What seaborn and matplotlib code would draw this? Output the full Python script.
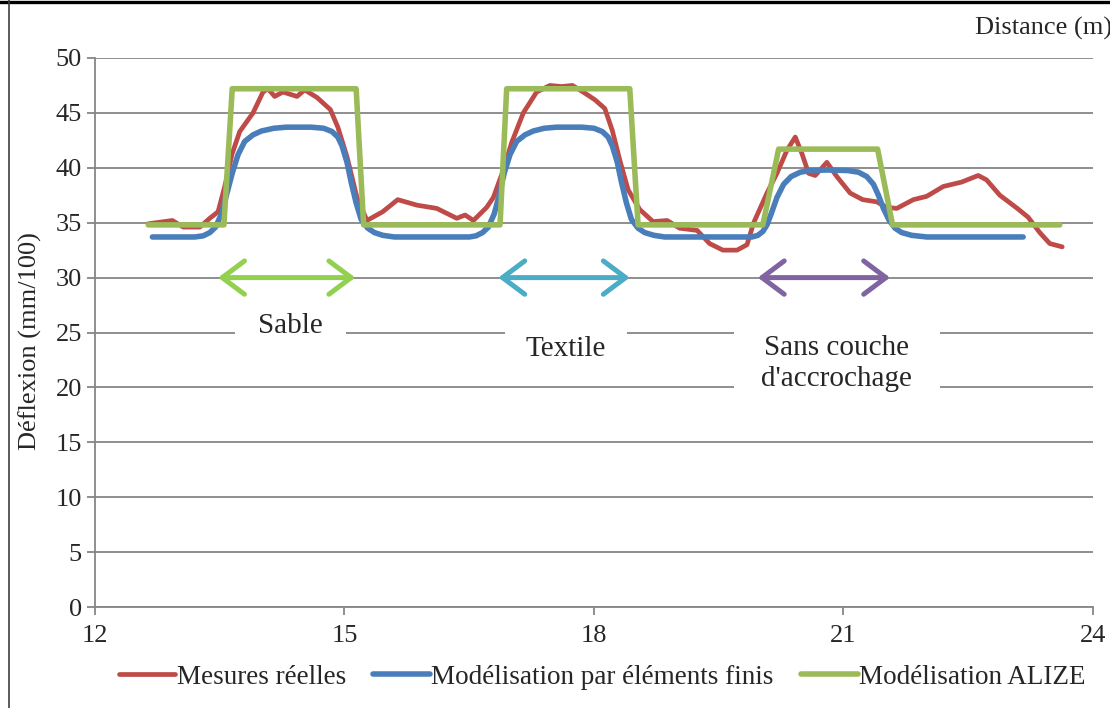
import matplotlib
matplotlib.use("Agg")
import matplotlib.pyplot as plt
from matplotlib.lines import Line2D
from matplotlib.patches import FancyArrowPatch
import pandas as pd
import seaborn as sns

# --- data ---
mesures_x = [12.64, 12.93, 13.06, 13.26, 13.38, 13.48, 13.56, 13.65, 13.74, 13.90,
             14.02, 14.08, 14.16, 14.26, 14.43, 14.52, 14.67, 14.83, 14.92, 15.03,
             15.15, 15.27, 15.46, 15.64, 15.87, 16.11, 16.35, 16.45, 16.55, 16.71,
             16.79, 16.91, 17.01, 17.15, 17.31, 17.47, 17.61, 17.74, 17.87, 18.01,
             18.13, 18.22, 18.31, 18.41, 18.55, 18.71, 18.88, 19.03, 19.24, 19.39,
             19.55, 19.72, 19.84, 19.92, 20.08, 20.20, 20.32, 20.42, 20.50, 20.58,
             20.66, 20.80, 20.92, 21.08, 21.23, 21.40, 21.52, 21.64, 21.84, 22.00,
             22.20, 22.42, 22.62, 22.72, 22.88, 23.09, 23.22, 23.36, 23.48, 23.63]
mesures_y = [34.9, 35.2, 34.6, 34.6, 35.4, 36.0, 38.3, 41.3, 43.3, 45.0,
             46.9, 47.2, 46.5, 46.9, 46.5, 47.1, 46.4, 45.3, 43.7, 41.0,
             37.3, 35.2, 36.0, 37.1, 36.6, 36.3, 35.4, 35.7, 35.2, 36.4,
             37.3, 39.8, 42.3, 45.0, 46.9, 47.5, 47.4, 47.5, 46.9, 46.2,
             45.4, 43.4, 40.7, 38.0, 36.2, 35.1, 35.2, 34.5, 34.3, 33.1,
             32.5, 32.5, 33.0, 35.0, 37.7, 39.5, 41.6, 42.8, 41.3, 39.5,
             39.3, 40.5, 39.2, 37.7, 37.1, 36.9, 36.4, 36.3, 37.1, 37.4,
             38.3, 38.7, 39.3, 38.9, 37.5, 36.3, 35.5, 34.1, 33.1, 32.8]

ef_x = [12.69, 13.20, 13.30, 13.38, 13.45, 13.52, 13.58, 13.65, 13.72, 13.80,
        13.90, 14.00, 14.15, 14.30, 14.60, 14.75, 14.85, 14.92, 14.97, 15.03,
        15.08, 15.14, 15.20, 15.28, 15.36, 15.46, 15.60, 16.50, 16.58, 16.66,
        16.73, 16.80, 16.86, 16.92, 16.99, 17.07, 17.17, 17.27, 17.40, 17.55,
        17.85, 18.00, 18.10, 18.17, 18.22, 18.28, 18.33, 18.39, 18.45, 18.53,
        18.61, 18.72, 18.85, 19.90, 19.97, 20.03, 20.08, 20.13, 20.20, 20.28,
        20.37, 20.48, 20.60, 20.80, 21.05, 21.18, 21.28, 21.36, 21.42, 21.48,
        21.55, 21.62, 21.70, 21.82, 22.00, 23.16]
ef_y = [33.7, 33.7, 33.8, 34.1, 34.6, 35.8, 37.5, 39.5, 41.2, 42.4,
        43.0, 43.35, 43.6, 43.7, 43.7, 43.6, 43.3, 42.8, 42.0, 40.5,
        38.7, 36.8, 35.3, 34.5, 34.1, 33.85, 33.7, 33.7, 33.8, 34.1,
        34.6, 35.8, 37.5, 39.5, 41.2, 42.4, 43.0, 43.35, 43.6, 43.7,
        43.7, 43.6, 43.3, 42.8, 42.0, 40.5, 38.7, 36.8, 35.3, 34.5,
        34.1, 33.85, 33.7, 33.7, 33.85, 34.2, 34.8, 35.8, 37.3, 38.5,
        39.2, 39.6, 39.75, 39.8, 39.75, 39.6, 39.2, 38.5, 37.5, 36.3,
        35.2, 34.5, 34.1, 33.85, 33.7, 33.7]

alize_x = [12.64, 13.55, 13.65, 15.14, 15.23, 16.87, 16.95, 18.43, 18.53,
           20.03, 20.22, 21.41, 21.59, 23.60]
alize_y = [34.8, 34.8, 47.2, 47.2, 34.8, 34.8, 47.2, 47.2, 34.8,
           34.8, 41.7, 41.7, 34.8, 34.8]

series_labels = ["Mesures réelles", "Modélisation par éléments finis", "Modélisation ALIZE"]
series_colors = ["#BE4B48", "#4A7EBB", "#9BBB59"]

zone_labels = ["Sable", "Textile", "Sans couche\nd'accrochage"]
zone_start = [13.48, 16.85, 19.97]
zone_end = [15.13, 18.43, 21.56]
zone_colors = ["#92D050", "#4BACC6", "#8064A2"]

sns.set_style("white")
plt.rcParams["font.family"] = ["Liberation Serif", "DejaVu Serif"]

fig = plt.figure(figsize=(11.1, 7.08), dpi=100)
ax = fig.add_axes([95 / 1110, 1 - 607 / 708, (1093 - 95) / 1110, (607 - 58) / 708])

data = [(mesures_x, mesures_y, 3.4), (ef_x, ef_y, 4.0), (alize_x, alize_y, 4.0)]
for (xs, ys, lw), lab, col in zip(data, series_labels, series_colors):
    df = pd.DataFrame({"x": xs, "y": ys})
    sns.lineplot(data=df, x="x", y="y", ax=ax, color=col, linewidth=lw,
                 estimator=None, sort=False, label=lab,
                 solid_joinstyle="round", solid_capstyle="round")

ax.set_xlim(12, 24)
ax.set_ylim(0, 50)
ax.set_xticks([12, 15, 18, 21, 24])
ax.set_yticks(range(0, 51, 5))
ax.set_xlabel("")
ax.set_ylabel("")
ax.tick_params(axis="both", labelsize=19, length=6, width=1.3, color="#868686",
               direction="out", bottom=True, left=True)
ax.tick_params(axis="x", pad=7)
ax.yaxis.grid(True, color="#868686", linewidth=1.3)
ax.xaxis.grid(False)
ax.set_axisbelow(True)
for s in ["top", "right"]:
    ax.spines[s].set_visible(False)
for s in ["left", "bottom"]:
    ax.spines[s].set_color("#868686")
    ax.spines[s].set_linewidth(1.3)

# zone arrows
for x0, x1, col in zip(zone_start, zone_end, zone_colors):
    arr = FancyArrowPatch((x0, 30), (x1, 30),
                          arrowstyle="<->,head_length=16,head_width=12",
                          mutation_scale=1, color=col, linewidth=3.6,
                          shrinkA=0, shrinkB=0, capstyle="round",
                          joinstyle="round", zorder=4)
    ax.add_patch(arr)

# zone labels with white boxes
label_pos = [(14.35, 25.6, 0.8), (17.66, 23.5, 0.72), (20.92, 22.2, 0.95)]
for (tx, ty, pad), txt in zip(label_pos, zone_labels):
    ax.text(tx, ty, txt, ha="center", va="center", fontsize=21,
            linespacing=1.25,
            bbox=dict(boxstyle=f"square,pad={pad}", facecolor="white",
                      edgecolor="none"), zorder=3)

ax.legend(loc="center", bbox_to_anchor=(602 / 1110, 1 - 677 / 708),
          bbox_transform=fig.transFigure, ncol=3, frameon=False, fontsize=19.5,
          handlelength=2.1, handletextpad=0.05, columnspacing=1.0)

fig.text(30 / 1110, 1 - 341 / 708, "Déflexion (mm/100)", rotation=90,
         ha="center", va="center", fontsize=19)
fig.text(975 / 1110, 1 - 28 / 708, "Distance (m)", ha="left", va="center",
         fontsize=19)

# chart area border remnants
fig.add_artist(Line2D([0, 1], [1 - 1.5 / 708] * 2, color="black", linewidth=2.4))
fig.add_artist(Line2D([9 / 1110] * 2, [0, 1], color="#404040", linewidth=1.2))

fig.savefig("out.png", dpi=100)
plt.close(fig)
